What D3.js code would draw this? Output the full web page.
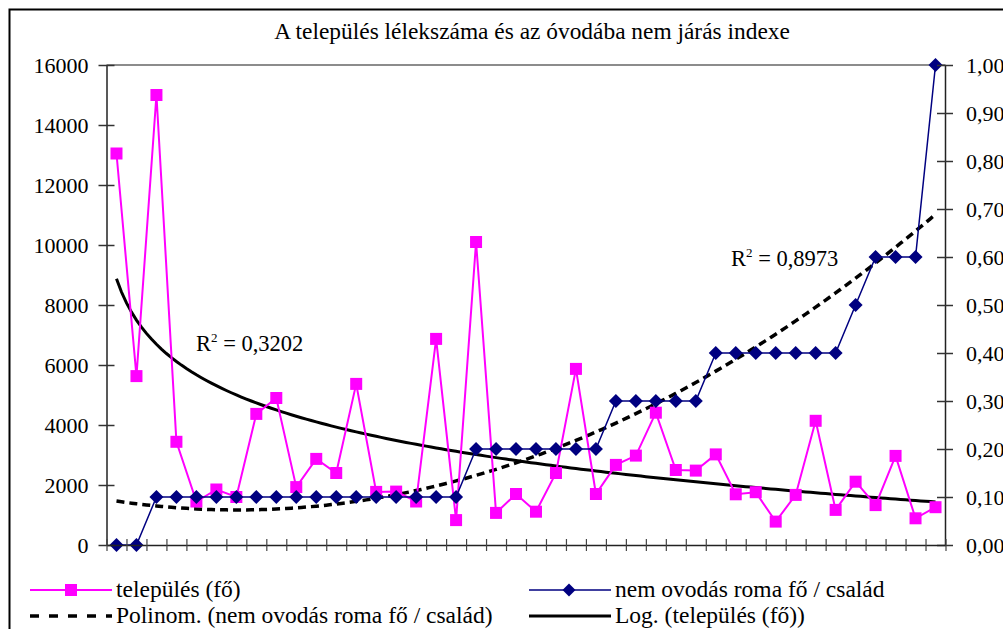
<!DOCTYPE html>
<html>
<head>
<meta charset="utf-8">
<script src="https://cdn.jsdelivr.net/npm/d3@7"></script>
<style>
  html, body { margin: 0; padding: 0; background: #fff; }
  svg { display: block; }
  svg text { font-family: "Liberation Serif", "Times New Roman", serif; }
</style>
</head>
<body>
<svg id="chart" width="1003" height="629"></svg>
<script>
// data
const telepules = [13050, 5630, 15000, 3440, 1450, 1850, 1600, 4370, 4900, 1930,
  2870, 2400, 5370, 1770, 1780, 1450, 6870, 830, 10100, 1070,
  1700, 1110, 2400, 5870, 1700, 2670, 2980, 4410, 2500, 2480,
  3020, 1690, 1760, 780, 1670, 4140, 1170, 2110, 1330, 2970, 890, 1260];
const roma = [0, 0, 0.1, 0.1, 0.1, 0.1, 0.1, 0.1, 0.1, 0.1,
  0.1, 0.1, 0.1, 0.1, 0.1, 0.1, 0.1, 0.1, 0.2, 0.2,
  0.2, 0.2, 0.2, 0.2, 0.2, 0.3, 0.3, 0.3, 0.3, 0.3,
  0.4, 0.4, 0.4, 0.4, 0.4, 0.4, 0.4, 0.5, 0.6, 0.6, 0.6, 1.0];
const categories = telepules.map((d, i) => i + 1);
const leftTicks = [0, 2000, 4000, 6000, 8000, 10000, 12000, 14000, 16000];
const rightTicks = [0, 0.1, 0.2, 0.3, 0.4, 0.5, 0.6, 0.7, 0.8, 0.9, 1.0];
const title = 'A település lélekszáma és az óvodába nem járás indexe';
const seriesNames = ['település (fő)', 'nem ovodás roma fő / család',
  'Polinom. (nem ovodás roma fő / család)', 'Log. (település (fő))'];
const r2Labels = ['0,3202', '0,8973'];

const serif = '"Liberation Serif", "Times New Roman", serif';
const svg = d3.select('#chart');
const plot = { left: 106.5, right: 945.5, top: 65, bottom: 545 };

// outer frame
svg.append('rect')
  .attr('x', 9.5).attr('y', 9.5)
  .attr('width', 1010).attr('height', 700)
  .attr('fill', 'none').attr('stroke', '#000').attr('stroke-width', 2);

svg.append('text')
  .attr('x', 532).attr('y', 39)
  .attr('text-anchor', 'middle')
  .attr('font-family', serif)
  .attr('font-size', 23.4)
  .text(title);

const x = d3.scaleBand()
  .domain(categories)
  .range([plot.left, plot.right])
  .padding(0);
const cx = d => x(d) + x.bandwidth() / 2;
const xEdge = d3.scaleLinear().domain([0, categories.length]).range([plot.left, plot.right]);

const yL = d3.scaleLinear().domain([0, 16000]).range([plot.bottom, plot.top]);
const yR = d3.scaleLinear().domain([0, 1]).range([plot.bottom, plot.top]);

// top border of the plot area
svg.append('line')
  .attr('x1', plot.left).attr('x2', plot.right)
  .attr('y1', plot.top).attr('y2', plot.top)
  .attr('stroke', '#8c8c8c').attr('stroke-width', 2);

// least squares fits, like the spreadsheet trendlines
function polyFit(xs, ys, order) {
  const n = order + 1;
  const A = Array.from({ length: n }, () => new Array(n + 1).fill(0));
  xs.forEach((xv, k) => {
    for (let i = 0; i < n; i++) {
      for (let j = 0; j < n; j++) A[i][j] += Math.pow(xv, i + j);
      A[i][n] += ys[k] * Math.pow(xv, i);
    }
  });
  for (let i = 0; i < n; i++) {
    let p = i;
    for (let r = i + 1; r < n; r++) if (Math.abs(A[r][i]) > Math.abs(A[p][i])) p = r;
    [A[i], A[p]] = [A[p], A[i]];
    for (let r = 0; r < n; r++) {
      if (r === i) continue;
      const f = A[r][i] / A[i][i];
      for (let c = i; c <= n; c++) A[r][c] -= f * A[i][c];
    }
  }
  const coef = A.map((row, i) => row[n] / row[i]);
  return xv => coef.reduce((s, c, i) => s + c * Math.pow(xv, i), 0);
}
const polyFn = polyFit(categories, roma, 2);
const logFnLin = polyFit(categories.map(Math.log), telepules, 1);
const logFn = xv => logFnLin(Math.log(xv));

const fine = d3.range(1, categories.length + 0.001, 0.25);
const xFine = d3.scaleLinear().domain([1, categories.length]).range([cx(1), cx(categories.length)]);

const g = svg.append('g');

g.append('path')
  .datum(fine)
  .attr('fill', 'none').attr('stroke', '#000').attr('stroke-width', 3)
  .attr('d', d3.line().x(d => xFine(d)).y(d => yL(logFn(d))));

g.append('path')
  .datum(fine)
  .attr('fill', 'none').attr('stroke', '#000').attr('stroke-width', 3.5)
  .attr('stroke-dasharray', '8,5')
  .attr('d', d3.line().x(d => xFine(d)).y(d => yR(polyFn(d))));

// település series
g.append('path')
  .datum(telepules)
  .attr('fill', 'none').attr('stroke', '#ff00ff').attr('stroke-width', 2)
  .attr('d', d3.line().x((d, i) => cx(categories[i])).y(d => yL(d)));
g.selectAll('.sq')
  .data(telepules)
  .join('rect')
  .attr('class', 'sq')
  .attr('x', (d, i) => cx(categories[i]) - 6)
  .attr('y', d => yL(d) - 6)
  .attr('width', 12).attr('height', 12)
  .attr('fill', '#ff00ff');

// roma series
const diamond = (px, py, r) => `M${px},${py - r}L${px + r},${py}L${px},${py + r}L${px - r},${py}Z`;
g.append('path')
  .datum(roma)
  .attr('fill', 'none').attr('stroke', '#000080').attr('stroke-width', 1.5)
  .attr('d', d3.line().x((d, i) => cx(categories[i])).y(d => yR(d)));
g.selectAll('.dm')
  .data(roma)
  .join('path')
  .attr('class', 'dm')
  .attr('d', (d, i) => diamond(cx(categories[i]), yR(d), 7))
  .attr('fill', '#000080');

// axes
const crossTicks = (sel, len) => {
  sel.attr('font-family', serif).attr('font-size', 22);
  sel.selectAll('.tick line').attr('x1', -len).attr('x2', len).attr('stroke', '#333').attr('stroke-width', 1.5);
  sel.select('.domain').attr('stroke', '#222').attr('stroke-width', 1.5);
  sel.selectAll('.tick text').attr('fill', '#000');
};

svg.append('g')
  .attr('transform', `translate(${plot.left},0)`)
  .call(d3.axisLeft(yL).tickValues(leftTicks).tickSizeOuter(0).tickSizeInner(8).tickFormat(d3.format('d')))
  .call(s => crossTicks(s, 8))
  .call(s => s.selectAll('.tick text').attr('x', -18));

svg.append('g')
  .attr('transform', `translate(${plot.right - 0.5},0)`)
  .call(d3.axisRight(yR).tickValues(rightTicks).tickSizeOuter(0).tickSizeInner(8)
    .tickFormat(d => d3.format('.2f')(d).replace('.', ',')))
  .call(s => crossTicks(s, 8))
  .call(s => s.selectAll('.tick text').attr('x', 21));

svg.append('g')
  .attr('transform', `translate(0,${plot.bottom})`)
  .call(d3.axisBottom(xEdge).tickValues(d3.range(0, categories.length + 1)).tickSizeOuter(0).tickSizeInner(6).tickFormat(''))
  .call(s => {
    s.selectAll('.tick line').attr('y1', -6).attr('y2', 6).attr('stroke', '#444').attr('stroke-width', 1.2);
    s.select('.domain').attr('stroke', '#222').attr('stroke-width', 1.5);
  });

// R² labels
const r2 = (px, py, val) => {
  const t = svg.append('text').attr('x', px).attr('y', py).attr('font-size', 22.5).attr('font-family', serif);
  t.append('tspan').text('R');
  t.append('tspan').attr('font-size', 13).attr('dy', -9).text('2');
  t.append('tspan').attr('dy', 9).text(' = ' + val);
};
r2(196, 351, r2Labels[0]);
r2(731, 266, r2Labels[1]);

// legend
const legend = svg.append('g').attr('font-size', 23.5).attr('font-family', serif);
const rows = [
  { x: 30, y: 590, name: seriesNames[0], kind: 'sq' },
  { x: 529, y: 590, name: seriesNames[1], kind: 'dm' },
  { x: 30, y: 616, name: seriesNames[2], kind: 'dash' },
  { x: 529, y: 616, name: seriesNames[3], kind: 'log' }
];
rows.forEach(r => {
  const ln = legend.append('line')
    .attr('x1', r.x).attr('x2', r.x + 82)
    .attr('y1', r.y).attr('y2', r.y);
  if (r.kind === 'sq') {
    ln.attr('stroke', '#ff00ff').attr('stroke-width', 2);
    legend.append('rect').attr('x', r.x + 35).attr('y', r.y - 6).attr('width', 12).attr('height', 12).attr('fill', '#ff00ff');
  } else if (r.kind === 'dm') {
    ln.attr('stroke', '#000080').attr('stroke-width', 1.5);
    legend.append('path').attr('d', diamond(r.x + 40, r.y, 6.5)).attr('fill', '#000080');
  } else if (r.kind === 'dash') {
    ln.attr('stroke', '#000').attr('stroke-width', 3.5).attr('stroke-dasharray', '9,10');
  } else {
    ln.attr('stroke', '#000').attr('stroke-width', 3);
  }
  legend.append('text')
    .attr('x', r.x + 86).attr('y', r.y + 7)
    .text(r.name);
});
</script>
</body>
</html>
